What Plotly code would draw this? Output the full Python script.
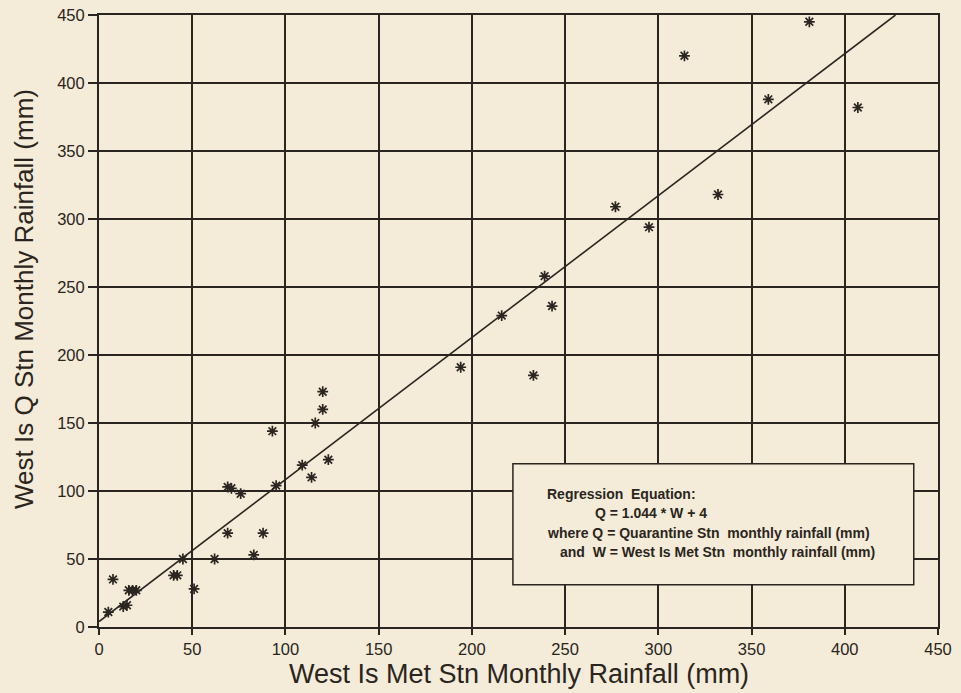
import plotly.graph_objects as go

# Data
met_stn_rain = [5, 7.5, 13, 15, 16, 18, 20, 40, 42, 45, 51, 62, 69, 69, 71, 76, 83, 88,
                93, 95, 109, 114, 116, 120, 120, 123, 194, 216, 233, 239, 243, 277, 295,
                314, 332, 359, 381, 407]
q_stn_rain = [11, 35, 15, 16, 27, 27, 27, 38, 38, 50, 28, 50, 69, 103, 102, 98, 53, 69,
              144, 104, 119, 110, 150, 173, 160, 123, 191, 229, 185, 258, 236, 309, 294,
              420, 318, 388, 445, 382]
slope = 1.044
intercept = 4
axis_max = 450
tick_vals = [0, 50, 100, 150, 200, 250, 300, 350, 400, 450]

BG = "#f4ecd8"
INK = "#2a2520"
FONT = "Liberation Sans, Arial, sans-serif"

line_x_end = (axis_max - intercept) / slope
line_x = [0, line_x_end]
line_y = [intercept + slope * v for v in line_x]

fig = go.Figure()
fig.add_trace(go.Scatter(x=line_x, y=line_y, mode="lines",
                         line=dict(color=INK, width=1.6), hoverinfo="skip"))
fig.add_trace(go.Scatter(x=met_stn_rain, y=q_stn_rain, mode="markers",
                         marker=dict(symbol="asterisk-open", size=9, color=INK,
                                     line=dict(color=INK, width=1.7))))

axis_common = dict(range=[0, axis_max], tickvals=tick_vals, showgrid=True,
                   gridcolor=INK, gridwidth=1.7, showline=True, linecolor=INK,
                   linewidth=2, mirror=True, ticks="outside",
                   tickcolor=INK, tickwidth=1.5, zeroline=False, automargin=False,
                   tickfont=dict(family=FONT, size=16.5, color=INK))

fig.update_xaxes(**axis_common, ticklen=6)
fig.update_yaxes(**axis_common, ticklen=9)

# Axis titles
fig.add_annotation(xref="paper", yref="paper", x=0.5, y=-0.077, yanchor="middle",
                   text="West Is Met Stn Monthly Rainfall (mm)", showarrow=False,
                   font=dict(family=FONT, size=27, color=INK))
fig.add_annotation(xref="paper", yref="paper", x=-0.0894, y=0.536, xanchor="center",
                   yanchor="middle", textangle=-90,
                   text="West Is Q Stn Monthly Rainfall (mm)",
                   showarrow=False, font=dict(family=FONT, size=26, color=INK))

# Regression equation box
fig.add_shape(type="rect", xref="x", yref="y", x0=222, x1=437, y0=31, y1=120,
              fillcolor=BG, line=dict(color=INK, width=1.5), layer="above")

box_lines = [
    ("Regression  Equation:", 239, 98),
    ("Q = 1.044 * W + 4", 265, 84),
    ("where Q = Quarantine Stn  monthly rainfall (mm)", 239, 69),
    ("and  W = West Is Met Stn  monthly rainfall (mm)", 246, 55),
]
for txt, ax_, ay_ in box_lines:
    fig.add_annotation(x=ax_, y=ay_, xref="x", yref="y", text="<b>" + txt + "</b>",
                       showarrow=False, xanchor="left", yanchor="middle",
                       font=dict(family=FONT, size=14, color=INK))

fig.update_layout(width=961, height=693, paper_bgcolor=BG, plot_bgcolor=BG,
                  showlegend=False,
                  margin=dict(l=99, r=23, t=15, b=66),
                  font=dict(family=FONT, color=INK))

fig.write_html("out.html", config={"displayModeBar": False},
               post_script="document.body.style.margin='0';"
                           "document.body.style.background='" + BG + "';")
